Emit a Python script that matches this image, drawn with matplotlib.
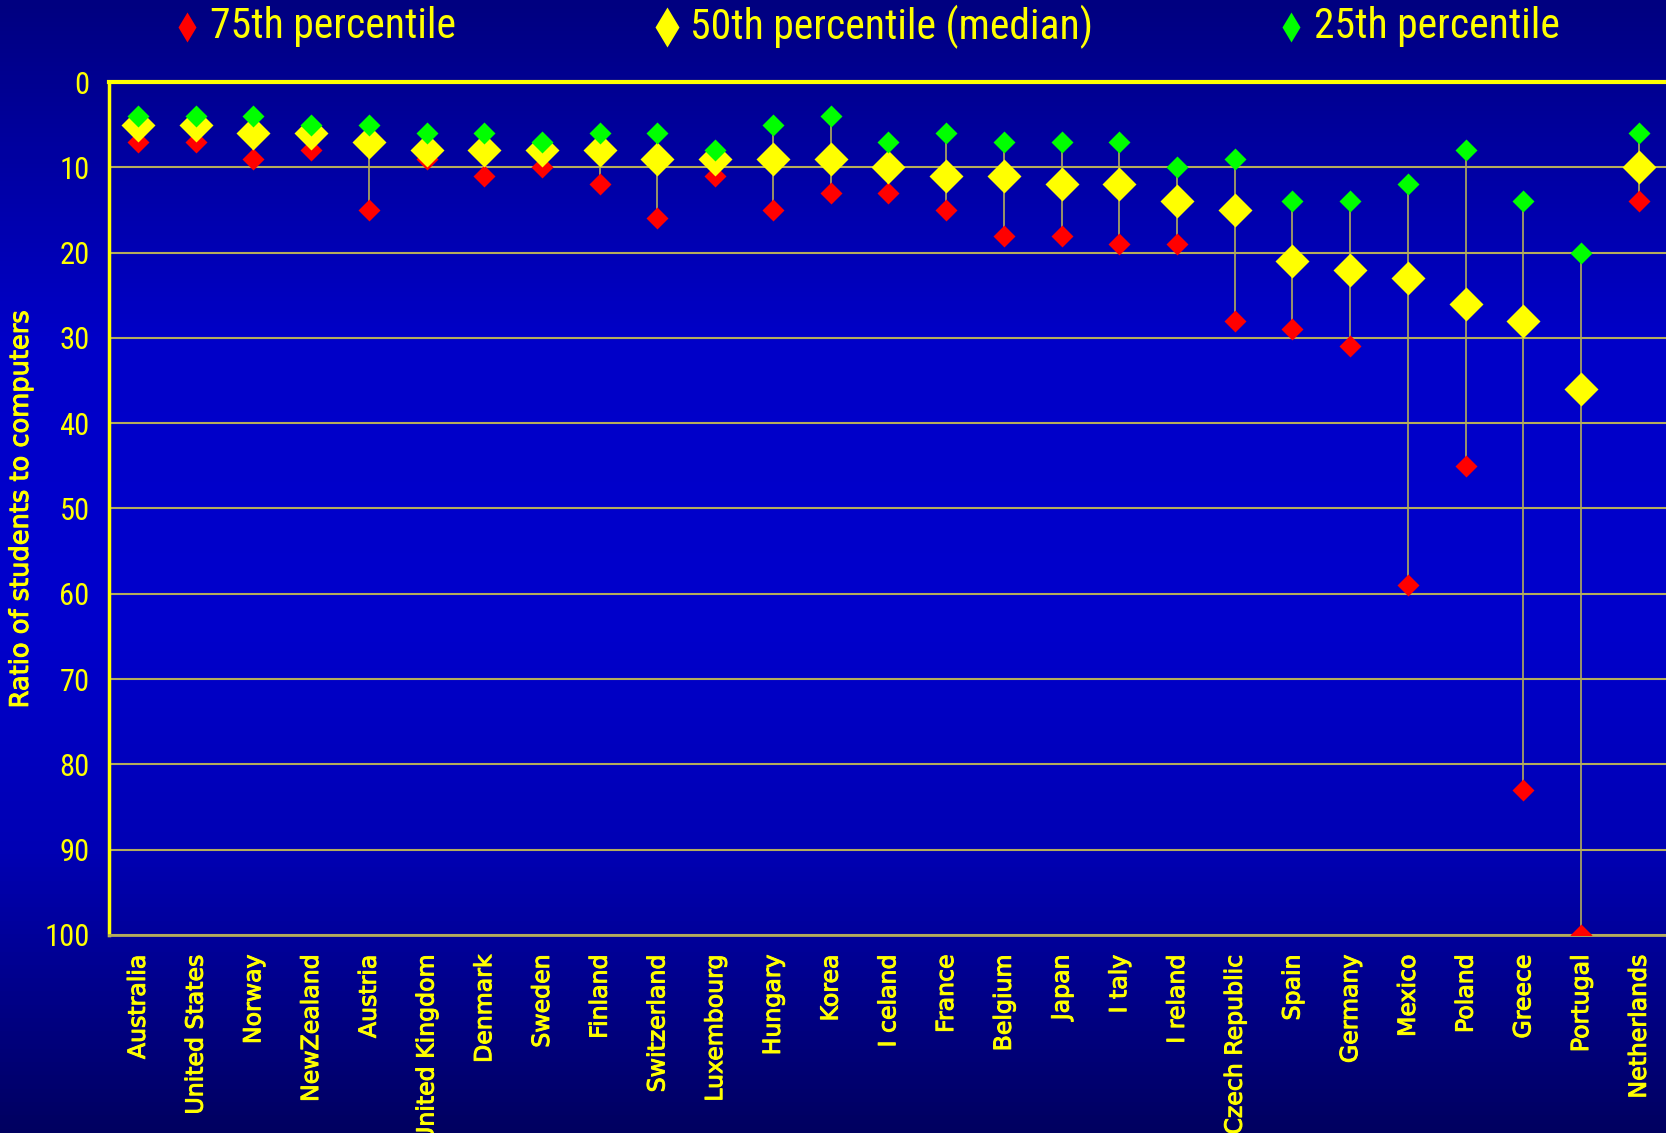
import numpy as np
import matplotlib
matplotlib.use("Agg")
import matplotlib.pyplot as plt
from matplotlib import font_manager as fm
from matplotlib import patheffects as pe
from matplotlib.colors import LinearSegmentedColormap
from matplotlib.lines import Line2D

countries = ["Australia", "United States", "Norway", "NewZealand", "Austria",
             "United Kingdom", "Denmark", "Sweden", "Finland", "Switzerland",
             "Luxembourg", "Hungary", "Korea", "I celand", "France", "Belgium",
             "Japan", "I taly", "I reland", "Czech Republic", "Spain", "Germany",
             "Mexico", "Poland", "Greece", "Portugal", "Netherlands"]
p75 = [7, 7, 9, 8, 15, 9, 11, 10, 12, 16, 11, 15, 13, 13, 15, 18, 18, 19, 19,
       28, 29, 31, 59, 45, 83, 100, 14]
p50 = [5, 5, 6, 6, 7, 8, 8, 8, 8, 9, 9, 9, 9, 10, 11, 11, 12, 12, 14, 15, 21,
       22, 23, 26, 28, 36, 10]
p25 = [4, 4, 4, 5, 5, 6, 6, 7, 6, 6, 8, 5, 4, 7, 6, 7, 7, 7, 10, 9, 14, 14,
       12, 8, 14, 20, 6]
yticks = [0, 10, 20, 30, 40, 50, 60, 70, 80, 90, 100]
series_labels = ["75th percentile", "50th percentile (median)", "25th percentile"]

YEL = "#FFFF00"
GRID = "#B4AC5C"
semi = [pe.withStroke(linewidth=0.7, foreground=YEL)]

# pick a narrow font if one is installed
names = {f.name for f in fm.fontManager.ttflist}
narrow_family = None
for cand in ["Liberation Sans Narrow", "Roboto Condensed", "Open Sans Condensed",
             "DejaVu Sans Condensed", "Arial Narrow"]:
    if cand in names:
        narrow_family = cand
        break
if narrow_family:
    narrow_kw = dict(family=[narrow_family, "DejaVu Sans"])
    leg_fs, tick_fs = 30, 22
else:
    narrow_kw = dict(family="DejaVu Sans")
    leg_fs, tick_fs = 23, 17.5

fig = plt.figure(figsize=(16.66, 11.33), dpi=100)

# background gradient
bg = fig.add_axes([0, 0, 1, 1], zorder=-10)
cmap = LinearSegmentedColormap.from_list(
    "bg", [(0.0, "#000080"), (0.3, "#0000C8"), (0.55, "#0000CC"),
           (0.75, "#0000B4"), (1.0, "#000060")])
grad = np.linspace(0, 1, 256).reshape(-1, 1)
bg.imshow(grad, aspect="auto", cmap=cmap, extent=[0, 1, 1, 0])
bg.set_axis_off()

ax = fig.add_axes([109 / 1666, 1 - 935 / 1133, 1 - 109 / 1666 + 0.001, (935 - 82) / 1133])
ax.set_facecolor("none")
x = np.arange(len(countries))

ax.vlines(x, p25, p75, color=GRID, lw=1.2, zorder=2)
ax.plot(x, p75, ls="none", marker="D", ms=11, color="#FF0000", mec="none", zorder=3)
ax.plot(x, p50, ls="none", marker="D", ms=17.5, color=YEL, mec="none", zorder=4)
ax.plot(x, p25, ls="none", marker="D", ms=11, color="#00FF00", mec="none", zorder=5)

ax.set_xlim(-0.5, len(countries) - 0.5)
ax.set_ylim(100, 0)
ax.set_yticks(yticks)
ax.set_yticklabels([str(v) for v in yticks], fontsize=tick_fs, color=YEL, **narrow_kw)
ax.set_xticks(x)
ax.set_xticklabels(countries, rotation=90, fontsize=17, color=YEL,
                   family="DejaVu Sans", va="top", ha="center")
for t in ax.get_xticklabels():
    t.set_path_effects(semi)
ax.tick_params(axis="y", length=0, pad=14)
ax.tick_params(axis="x", length=0, pad=14)
ax.yaxis.grid(True, color=GRID, lw=1.5)
ax.set_axisbelow(True)
ax.spines["right"].set_visible(False)
ax.spines["top"].set_color(YEL)
ax.spines["top"].set_linewidth(3)
ax.spines["left"].set_color(YEL)
ax.spines["left"].set_linewidth(2.5)
ax.spines["bottom"].set_color(GRID)
ax.spines["bottom"].set_linewidth(2)

ylab = ax.set_ylabel("Ratio of students to computers", fontsize=18.5, color=YEL,
                     family="DejaVu Sans", va="center")
ylab.set_path_effects(semi)
ax.yaxis.set_label_coords((21 - 109) / 1557, 0.5)

# legend
leg_colors = ["#FF0000", YEL, "#00FF00"]
leg_ms = [15, 20, 15]
leg_x = [187, 667, 1291]
ly = 1 - 26.5 / 1133
for lab, c, ms, lx in zip(series_labels, leg_colors, leg_ms, leg_x):
    fig.add_artist(Line2D([lx / 1666], [ly], transform=fig.transFigure,
                          marker="d", ms=ms, color=c, mec="none", ls="none"))
    fig.text((lx + 23) / 1666, ly, lab, color=YEL, fontsize=leg_fs,
             va="center", ha="left", **narrow_kw)

fig.savefig("out.png", dpi=100)
